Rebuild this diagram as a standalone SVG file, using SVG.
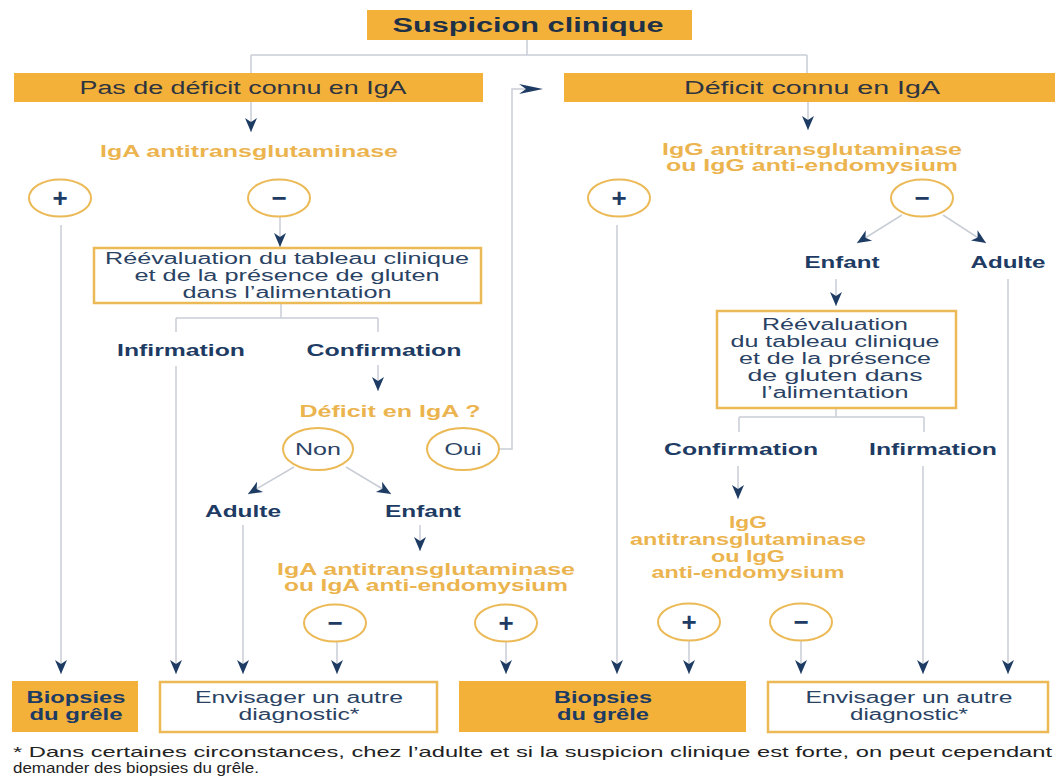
<svg xmlns="http://www.w3.org/2000/svg" width="1057" height="776" viewBox="0 0 1057 776">
<style>
text{font-family:"Liberation Sans",Arial,sans-serif;text-anchor:middle}
.fill{fill:#F4B13A}
.box{fill:#fff;stroke:#EBB955;stroke-width:2.5}
.ell{fill:#fff;stroke:#EBB955;stroke-width:2}
.h{font-size:20px;font-weight:bold;fill:#1F3147}
.bx{font-size:18px;fill:#2E3440}
.or{font-size:16px;font-weight:bold;fill:#EBB44F}
.nv{font-size:16px;font-weight:bold;fill:#1D3B63}
.rg{font-size:16px;fill:#2A4263}
.sym{font-size:26px;font-weight:bold;fill:#1D3B63}
.fn{font-size:14.5px;fill:#222;text-anchor:start}
.ln{fill:none;stroke:#C9CED6;stroke-width:1.5}
</style>
<defs>
<marker id="ah" markerUnits="userSpaceOnUse" markerWidth="16" markerHeight="16" viewBox="-15 -8 16 16" refX="0" refY="0" orient="auto">
<path d="M0,0 L-14,-6 L-10,0 L-14,6 Z" fill="#1D3B63"/>
</marker>
</defs>
<rect width="1057" height="776" fill="#fff"/>

<g id="connectors">
<path class="ln" d="M527,40 V55 M251,55 H807 M251,55 V73 M807,55 V73"/>
<path class="ln" d="M251,102 V132" marker-end="url(#ah)"/>
<path class="ln" d="M808,102 V130" marker-end="url(#ah)"/>
<path class="ln" d="M280,217 V247" marker-end="url(#ah)"/>
<path class="ln" d="M61,225 V674" marker-end="url(#ah)"/>
<path class="ln" d="M281,303 V318 M176,318 H378 M176,318 V332 M378,318 V332"/>
<path class="ln" d="M176,366 V674" marker-end="url(#ah)"/>
<path class="ln" d="M378,365 V391" marker-end="url(#ah)"/>
<path class="ln" d="M294,467 L248,494" marker-end="url(#ah)"/>
<path class="ln" d="M346,467 L391,494" marker-end="url(#ah)"/>
<path class="ln" d="M499,449 H512 V89 H526"/>
<path d="M543,89 L519,84 L526,89 L519,94 Z" fill="#1D3B63"/>
<path class="ln" d="M243,525 V674" marker-end="url(#ah)"/>
<path class="ln" d="M420,525 V551" marker-end="url(#ah)"/>
<path class="ln" d="M337,642 V674" marker-end="url(#ah)"/>
<path class="ln" d="M506,642 V674" marker-end="url(#ah)"/>
<path class="ln" d="M617,225 V674" marker-end="url(#ah)"/>
<path class="ln" d="M902,215 L857,243" marker-end="url(#ah)"/>
<path class="ln" d="M943,215 L986,243" marker-end="url(#ah)"/>
<path class="ln" d="M836,279 V306" marker-end="url(#ah)"/>
<path class="ln" d="M1008,279 V674" marker-end="url(#ah)"/>
<path class="ln" d="M836,408 V417 M739,417 H924 M739,417 V432 M924,417 V432"/>
<path class="ln" d="M738,466 V499" marker-end="url(#ah)"/>
<path class="ln" d="M923,466 V674" marker-end="url(#ah)"/>
<path class="ln" d="M689,641 V674" marker-end="url(#ah)"/>
<path class="ln" d="M801,641 V674" marker-end="url(#ah)"/>
</g>

<g id="suspicion">
<rect class="fill" x="367" y="10" width="325" height="30"/>
<text class="h" x="528" y="32" textLength="271" lengthAdjust="spacingAndGlyphs">Suspicion clinique</text>
</g>
<g id="pas-deficit">
<rect class="fill" x="14" y="73" width="469" height="29"/>
<text class="bx" x="243" y="94" textLength="327" lengthAdjust="spacingAndGlyphs">Pas de déficit connu en IgA</text>
</g>
<g id="deficit">
<rect class="fill" x="564" y="73" width="491" height="29"/>
<text class="bx" x="812" y="94" textLength="256" lengthAdjust="spacingAndGlyphs">Déficit connu en IgA</text>
</g>

<g id="iga-test">
<text class="or" x="249" y="157" textLength="298" lengthAdjust="spacingAndGlyphs">IgA antitransglutaminase</text>
</g>
<g id="igg-test">
<text class="or" x="812" y="155" textLength="300" lengthAdjust="spacingAndGlyphs">IgG antitransglutaminase</text>
<text class="or" x="812" y="171" textLength="292" lengthAdjust="spacingAndGlyphs">ou IgG anti-endomysium</text>
</g>

<g id="plus-1"><ellipse class="ell" cx="60" cy="198" rx="31" ry="18.5"/><text class="sym" x="60" y="207">+</text></g>
<g id="minus-1"><ellipse class="ell" cx="279" cy="198" rx="31" ry="18.5"/><text class="sym" x="279" y="207">−</text></g>
<g id="plus-2"><ellipse class="ell" cx="619" cy="198" rx="31" ry="18.5"/><text class="sym" x="619" y="207">+</text></g>
<g id="minus-2"><ellipse class="ell" cx="922" cy="198" rx="31" ry="18.5"/><text class="sym" x="922" y="207">−</text></g>

<g id="reeval-1">
<rect class="box" x="94" y="248" width="387" height="55"/>
<text class="rg" x="287" y="264" textLength="364" lengthAdjust="spacingAndGlyphs">Réévaluation du tableau clinique</text>
<text class="rg" x="287" y="281" textLength="305" lengthAdjust="spacingAndGlyphs">et de la présence de gluten</text>
<text class="rg" x="287" y="298" textLength="209" lengthAdjust="spacingAndGlyphs">dans l’alimentation</text>
</g>

<g id="infirmation-1"><text class="nv" x="181" y="356" textLength="128" lengthAdjust="spacingAndGlyphs">Infirmation</text></g>
<g id="confirmation-1"><text class="nv" x="384" y="356" textLength="155" lengthAdjust="spacingAndGlyphs">Confirmation</text></g>
<g id="deficit-q"><text class="or" x="390" y="417" textLength="181" lengthAdjust="spacingAndGlyphs">Déficit en IgA ?</text></g>

<g id="non"><ellipse class="ell" cx="318" cy="449" rx="35" ry="21" stroke-width="1.5"/><text class="rg" x="318" y="455" textLength="46" lengthAdjust="spacingAndGlyphs">Non</text></g>
<g id="oui"><ellipse class="ell" cx="463" cy="449" rx="36" ry="21" stroke-width="1.5"/><text class="rg" x="463" y="455" textLength="37" lengthAdjust="spacingAndGlyphs">Oui</text></g>

<g id="adulte-1"><text class="nv" x="243" y="517" textLength="76" lengthAdjust="spacingAndGlyphs">Adulte</text></g>
<g id="enfant-1"><text class="nv" x="423" y="517" textLength="76" lengthAdjust="spacingAndGlyphs">Enfant</text></g>

<g id="iga-test-2">
<text class="or" x="426" y="575" textLength="298" lengthAdjust="spacingAndGlyphs">IgA antitransglutaminase</text>
<text class="or" x="426" y="591" textLength="284" lengthAdjust="spacingAndGlyphs">ou IgA anti-endomysium</text>
</g>
<g id="minus-3"><ellipse class="ell" cx="335" cy="623" rx="31" ry="18.5"/><text class="sym" x="335" y="632">−</text></g>
<g id="plus-3"><ellipse class="ell" cx="506" cy="623" rx="31" ry="18.5"/><text class="sym" x="506" y="632">+</text></g>

<g id="enfant-2"><text class="nv" x="842" y="268" textLength="75" lengthAdjust="spacingAndGlyphs">Enfant</text></g>
<g id="adulte-2"><text class="nv" x="1008" y="268" textLength="75" lengthAdjust="spacingAndGlyphs">Adulte</text></g>

<g id="reeval-2">
<rect class="box" x="717" y="311" width="239" height="97"/>
<text class="rg" x="835" y="330" textLength="146" lengthAdjust="spacingAndGlyphs">Réévaluation</text>
<text class="rg" x="835" y="347" textLength="209" lengthAdjust="spacingAndGlyphs">du tableau clinique</text>
<text class="rg" x="835" y="364" textLength="192" lengthAdjust="spacingAndGlyphs">et de la présence</text>
<text class="rg" x="835" y="381" textLength="175" lengthAdjust="spacingAndGlyphs">de gluten dans</text>
<text class="rg" x="835" y="398" textLength="147" lengthAdjust="spacingAndGlyphs">l’alimentation</text>
</g>

<g id="confirmation-2"><text class="nv" x="741" y="455" textLength="154" lengthAdjust="spacingAndGlyphs">Confirmation</text></g>
<g id="infirmation-2"><text class="nv" x="933" y="455" textLength="128" lengthAdjust="spacingAndGlyphs">Infirmation</text></g>

<g id="igg-test-2">
<text class="or" x="748" y="528" textLength="38" lengthAdjust="spacingAndGlyphs">IgG</text>
<text class="or" x="748" y="545" textLength="236" lengthAdjust="spacingAndGlyphs">antitransglutaminase</text>
<text class="or" x="748" y="562" textLength="74" lengthAdjust="spacingAndGlyphs">ou IgG</text>
<text class="or" x="748" y="578" textLength="193" lengthAdjust="spacingAndGlyphs">anti-endomysium</text>
</g>
<g id="plus-4"><ellipse class="ell" cx="689" cy="622" rx="31" ry="18.5"/><text class="sym" x="689" y="631">+</text></g>
<g id="minus-4"><ellipse class="ell" cx="801" cy="622" rx="31" ry="18.5"/><text class="sym" x="801" y="631">−</text></g>

<g id="biopsies-1">
<rect class="fill" x="12" y="681" width="126" height="51"/>
<text class="nv" x="76" y="703" textLength="99" lengthAdjust="spacingAndGlyphs">Biopsies</text>
<text class="nv" x="76" y="720" textLength="93" lengthAdjust="spacingAndGlyphs">du grêle</text>
</g>
<g id="autre-1">
<rect class="box" x="160" y="682" width="277" height="50"/>
<text class="rg" x="299" y="703" textLength="208" lengthAdjust="spacingAndGlyphs">Envisager un autre</text>
<text class="rg" x="299" y="720" textLength="121" lengthAdjust="spacingAndGlyphs">diagnostic*</text>
</g>
<g id="biopsies-2">
<rect class="fill" x="459" y="681" width="287" height="51"/>
<text class="nv" x="603" y="703" textLength="98" lengthAdjust="spacingAndGlyphs">Biopsies</text>
<text class="nv" x="603" y="720" textLength="92" lengthAdjust="spacingAndGlyphs">du grêle</text>
</g>
<g id="autre-2">
<rect class="box" x="768" y="682" width="280" height="50"/>
<text class="rg" x="909" y="703" textLength="207" lengthAdjust="spacingAndGlyphs">Envisager un autre</text>
<text class="rg" x="909" y="720" textLength="118" lengthAdjust="spacingAndGlyphs">diagnostic*</text>
</g>

<g id="footnote">
<text class="fn" x="13" y="757" textLength="1039" lengthAdjust="spacingAndGlyphs">* Dans certaines circonstances, chez l’adulte et si la suspicion clinique est forte, on peut cependant</text>
<text class="fn" x="13" y="773" textLength="246" lengthAdjust="spacingAndGlyphs">demander des biopsies du grêle.</text>
</g>
</svg>
